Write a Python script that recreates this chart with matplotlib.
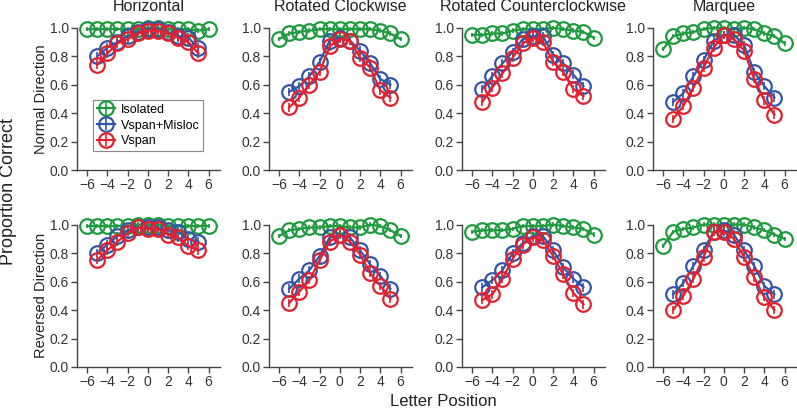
import numpy as np
import matplotlib.pyplot as plt

plt.rcParams['font.family'] = ['Liberation Sans', 'DejaVu Sans']

titles = ["Horizontal", "Rotated Clockwise", "Rotated Counterclockwise", "Marquee"]
rows = ["Normal Direction", "Reversed Direction"]

pos_iso = [-6, -5, -4, -3, -2, -1, 0, 1, 2, 3, 4, 5, 6]
pos_flank = [-5, -4, -3, -2, -1, 0, 1, 2, 3, 4, 5]

# Isolated, per panel (row-major: normal then reversed)
isolated = [
    [0.99, 0.99, 0.99, 0.99, 0.99, 0.99, 1.00, 1.00, 0.99, 0.99, 0.99, 0.98, 0.99],
    [0.92, 0.96, 0.97, 0.98, 0.99, 0.99, 0.99, 0.99, 0.99, 0.99, 0.98, 0.96, 0.92],
    [0.95, 0.95, 0.96, 0.96, 0.98, 0.99, 0.99, 0.99, 1.00, 0.99, 0.98, 0.97, 0.93],
    [0.85, 0.94, 0.96, 0.97, 0.99, 1.00, 1.00, 0.99, 1.00, 0.99, 0.96, 0.94, 0.89],
    [0.99, 0.99, 0.99, 0.99, 0.99, 1.00, 1.00, 1.00, 0.99, 0.99, 0.99, 0.99, 0.99],
    [0.92, 0.96, 0.97, 0.98, 0.98, 0.99, 0.99, 0.98, 0.98, 1.00, 0.99, 0.96, 0.92],
    [0.95, 0.96, 0.96, 0.96, 0.97, 0.99, 0.99, 0.99, 1.00, 0.99, 0.98, 0.97, 0.93],
    [0.85, 0.95, 0.97, 0.98, 1.00, 1.00, 1.00, 1.00, 1.00, 0.98, 0.96, 0.93, 0.90],
]
misloc = [
    [0.80, 0.86, 0.90, 0.94, 0.97, 0.99, 0.99, 0.97, 0.94, 0.93, 0.86],
    [0.55, 0.59, 0.66, 0.76, 0.91, 0.93, 0.91, 0.84, 0.75, 0.64, 0.60],
    [0.57, 0.66, 0.75, 0.83, 0.92, 0.94, 0.94, 0.81, 0.75, 0.67, 0.59],
    [0.48, 0.54, 0.66, 0.77, 0.91, 0.95, 0.95, 0.88, 0.69, 0.59, 0.51],
    [0.80, 0.86, 0.92, 0.96, 0.98, 0.98, 0.98, 0.96, 0.95, 0.90, 0.88],
    [0.55, 0.62, 0.68, 0.78, 0.91, 0.93, 0.91, 0.82, 0.72, 0.64, 0.55],
    [0.56, 0.61, 0.68, 0.80, 0.87, 0.92, 0.92, 0.82, 0.70, 0.62, 0.56],
    [0.51, 0.59, 0.71, 0.82, 0.95, 0.96, 0.93, 0.82, 0.71, 0.57, 0.51],
]
vspan = [
    [0.74, 0.82, 0.89, 0.92, 0.96, 0.98, 0.98, 0.96, 0.93, 0.90, 0.82],
    [0.44, 0.51, 0.60, 0.69, 0.87, 0.92, 0.91, 0.79, 0.72, 0.56, 0.51],
    [0.48, 0.58, 0.68, 0.79, 0.89, 0.93, 0.90, 0.76, 0.69, 0.57, 0.52],
    [0.36, 0.45, 0.58, 0.72, 0.86, 0.95, 0.92, 0.84, 0.64, 0.49, 0.39],
    [0.75, 0.82, 0.88, 0.94, 0.98, 0.97, 0.97, 0.93, 0.91, 0.85, 0.82],
    [0.45, 0.53, 0.61, 0.75, 0.88, 0.93, 0.88, 0.79, 0.66, 0.57, 0.48],
    [0.47, 0.51, 0.62, 0.76, 0.86, 0.91, 0.89, 0.78, 0.65, 0.52, 0.44],
    [0.40, 0.50, 0.62, 0.77, 0.95, 0.95, 0.90, 0.77, 0.63, 0.49, 0.40],
]
err_iso = 0.015
err_flank = 0.03

green = "#1f9a3e"
blue = "#3355a8"
red = "#e3202c"

fig = plt.figure(figsize=(7.97, 4.08), dpi=100)
lefts = [0.0966, 0.3375, 0.5797, 0.8193]
bottoms = [0.583, 0.1005]
w, h = 0.179, 0.349

for r in range(2):
    for c in range(4):
        k = r * 4 + c
        ax = fig.add_axes([lefts[c], bottoms[r], w, h])
        series = [
            (pos_iso, isolated[k], err_iso, green, "Isolated"),
            (pos_flank, misloc[k], err_flank, blue, "Vspan+Misloc"),
            (pos_flank, vspan[k], err_flank, red, "Vspan"),
        ]
        for x, y, e, col, lab in series:
            ax.errorbar(x, y, yerr=e, color=col, lw=1.6, marker="o", ms=10.5,
                        mfc="none", mec=col, mew=1.6, elinewidth=1.2,
                        capsize=0, clip_on=False, label=lab)
        ax.set_xlim(-7, 7.1)
        ax.set_ylim(0, 1.0)
        ax.set_xticks([-6, -4, -2, 0, 2, 4, 6])
        ax.set_xticklabels(["\u22126", "\u22124", "\u22122", "0", "2", "4", "6"])
        ax.set_yticks([0, 0.2, 0.4, 0.6, 0.8, 1.0])
        ax.set_yticklabels(["0.0", "0.2", "0.4", "0.6", "0.8", "1.0"])
        for s in ["top", "right"]:
            ax.spines[s].set_visible(False)
        for s in ["left", "bottom"]:
            ax.spines[s].set_color("#444444")
            ax.spines[s].set_linewidth(1.0)
        ax.tick_params(direction="out", length=4, width=1.0, color="#444444",
                       labelsize=10, labelcolor="#333333", pad=2)
        if r == 0:
            ax.set_title(titles[c], fontsize=11.5, color="#222222", pad=12)
        if k == 0:
            leg = ax.legend(loc="upper left", bbox_to_anchor=(0.112, 0.492),
                            borderaxespad=0, fontsize=9, fancybox=False,
                            edgecolor="#888888", handlelength=1.5,
                            borderpad=0.3, labelspacing=0.3,
                            handletextpad=0.4, framealpha=1)
            leg.get_frame().set_linewidth(0.8)

fig.text(0.051, 0.583 + h / 2, rows[0], rotation=90, ha="center", va="center",
         fontsize=10.5, color="#222222")
fig.text(0.051, 0.1005 + h / 2, rows[1], rotation=90, ha="center", va="center",
         fontsize=10.5, color="#222222")
fig.text(0.011, 0.531, "Proportion Correct", rotation=90, ha="center", va="center",
         fontsize=13, color="#222222")
fig.text(0.556, 0.016, "Letter Position", ha="center", va="center",
         fontsize=12, color="#222222")

fig.savefig("out.png", dpi=100)
